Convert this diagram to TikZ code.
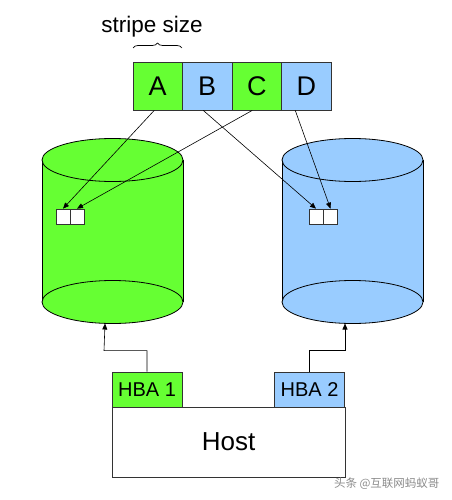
\documentclass[tikz,border=0pt]{standalone}
\usepackage{fontspec}
\setmainfont{Liberation Sans}
\newfontfamily\cjk{Noto Sans CJK SC}
\usetikzlibrary{decorations.pathreplacing,arrows.meta}
\definecolor{dgreen}{HTML}{66FF33}
\definecolor{dblue}{HTML}{99CCFF}
\tikzset{
  stripebox/.style={draw=black!80, line width=0.8pt, minimum width=49.5pt, minimum height=48pt, inner sep=0pt, font=\fontsize{27}{30}\selectfont},
  blk/.style={draw=black!80, fill=white, line width=0.7pt, minimum width=14pt, minimum height=15pt, inner sep=0pt},
  hba/.style={draw=black!80, line width=0.7pt, minimum width=70pt, minimum height=35pt, inner sep=0pt, font=\fontsize{20}{24}\selectfont},
  link/.style={line width=0.6pt, -{Triangle[length=6pt,width=5pt]}},
  cyl/.style={draw=black, line width=0.8pt}
}
\begin{document}
\begin{tikzpicture}[x=1pt,y=-1pt]
\useasboundingbox (0,0) rectangle (451,500);
% stripe label
\node[font=\fontsize{22.5}{26}\selectfont] (ss) at (152,27) {stripe size};
% stripes
\node[stripebox, fill=dgreen] (A) at (157.75,86) {A};
\node[stripebox, fill=dblue] (B) at (207.25,86) {B};
\node[stripebox, fill=dgreen] (C) at (256.75,86) {C};
\node[stripebox, fill=dblue] (D) at (306.25,86) {D};
\coordinate (bl) at (133,48);
\coordinate (br) at (182,48);
\draw[line width=0.7pt, decorate, decoration={brace, amplitude=5pt}] (bl) -- (br);
% left cylinder
\fill[dgreen] (42,160) -- (42,302) arc[start angle=180, end angle=360, x radius=70.5, y radius=21.5] -- (183,160) -- cycle;
\draw[cyl] (42,160) -- (42,302);
\draw[cyl] (183,160) -- (183,302);
\draw[cyl, fill=dgreen] (112.5,160) ellipse[x radius=70.5, y radius=21.5];
\draw[cyl, fill=dgreen] (112.5,302) ellipse[x radius=70.5, y radius=21.5];
\coordinate (lcb) at (105,323.5);
% right cylinder
\fill[dblue] (282,160) -- (282,302) arc[start angle=180, end angle=360, x radius=70.5, y radius=21.5] -- (423,160) -- cycle;
\draw[cyl] (282,160) -- (282,302);
\draw[cyl] (423,160) -- (423,302);
\draw[cyl, fill=dblue] (352.5,160) ellipse[x radius=70.5, y radius=21.5];
\draw[cyl, fill=dblue] (352.5,302) ellipse[x radius=70.5, y radius=21.5];
\coordinate (rcb) at (345,323.5);
% blocks
\node[blk] (l1) at (63,216.5) {};
\node[blk] (l2) at (77,216.5) {};
\node[blk] (r1) at (316,216.5) {};
\node[blk] (r2) at (330.5,216.5) {};
% stripe arrows
\draw[link] (A.south) ++(-3.5,0) coordinate (As) -- (l1.north);
\draw[link] (C.south) ++(-4.5,0) coordinate (Cs) -- (l2.north);
\draw[link] (B.south) ++(-4,0) coordinate (Bs) -- (r1.north);
\draw[link] (D.south) ++(-11,0) coordinate (Ds) -- (r2.north);
% host and HBAs
\node[draw=black!80, line width=0.7pt, fill=white, minimum width=233pt, minimum height=70pt, inner sep=0pt, font=\fontsize{26}{30}\selectfont] (host) at (228.5,442) {Host};
\node[hba, fill=dgreen] (h1) at (147,389.5) {HBA 1};
\node[hba, fill=dblue] (h2) at (309.5,389.5) {HBA 2};
\draw[link] (h1.north) |- ++(-43,-21) coordinate (k1) -- (lcb);
\draw[link] (h2.north) |- ++(35.5,-21) coordinate (k2) -- (rcb);
% watermark
\node[font=\cjk\fontsize{11.5}{13}\selectfont, text=black!45, anchor=east] (wm) at (443,484) {头条 @互联网蚂蚁哥};
\end{tikzpicture}
\end{document}
